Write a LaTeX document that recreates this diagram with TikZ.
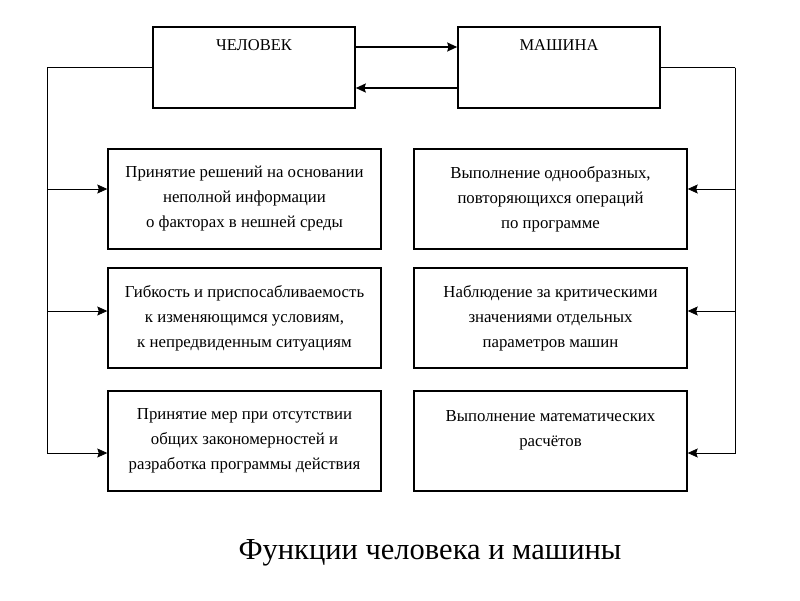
\documentclass[tikz,border=0pt]{standalone}
\usepackage{fontspec}
\setmainfont{Liberation Serif}
\usetikzlibrary{arrows.meta}

\begin{document}
\begin{tikzpicture}[
  x=1pt, y=-1pt,
  head/.style={draw, line width=1.6pt, minimum width=202pt, minimum height=81pt, inner sep=0pt},
  func/.style={draw, line width=1.4pt, minimum width=273pt, minimum height=100pt,
               inner sep=2pt, align=center, font=\fontsize{16.8}{25}\selectfont},
  link/.style={line width=0.8pt},
  >={Stealth[length=10pt, width=9pt, inset=1.5pt]}
]
  \useasboundingbox (0,0) rectangle (800,600);

  % ── top ──
  \node[head, label={[anchor=north, yshift=-10pt, font=\fontsize{16.5}{18}\selectfont]north:ЧЕЛОВЕК}] (chel) at (254, 67.5) {};
  \node[head, label={[anchor=north, yshift=-10pt, font=\fontsize{16.5}{18}\selectfont]north:МАШИНА}] (mash) at (559, 67.5) {};
  \draw[->, line width=1.8pt] ([yshift=20.5pt]chel.east) -- ([yshift=20.5pt]mash.west);
  \draw[->, line width=1.8pt] ([yshift=-20.5pt]mash.west) -- ([yshift=-20.5pt]chel.east);

  % ── human ──
  \node[func] (l1) at (244.5, 199) {Принятие решений на основании\\неполной информации\\о факторах в нешней среды};
  \node[func] (l2) at (244.5, 318) {Гибкость и приспосабливаемость\\к изменяющимся условиям,\\к непредвиденным ситуациям};
  \node[func] (l3) at (244.5, 441) {Принятие мер при отсутствии\\общих закономерностей и\\разработка программы действия};

  % ── machine ──
  \node[func] (r1) at (550.5, 199) {Выполнение однообразных,\\повторяющихся операций\\по программе};
  \node[func] (r2) at (550.5, 318) {Наблюдение за критическими\\значениями отдельных\\параметров машин};
  \node[func] (r3) at (550.5, 441) {Выполнение математических\\расчётов\\\mbox{}};

  % ── links ──
  \coordinate (lt) at (47, 67.5);
  \coordinate (rt) at (735, 67.5);
  \draw[link] (chel.west) -- (lt);
  \draw[link] (mash.east) -- (rt);
  \draw[link, ->] (lt) |- ([yshift=10pt]l1.west);
  \draw[link, ->] (lt) |- ([yshift=7pt]l2.west);
  \draw[link, ->] (lt) |- ([yshift=-12pt]l3.west);
  \draw[link, ->] (rt) |- ([yshift=10pt]r1.east);
  \draw[link, ->] (rt) |- ([yshift=7pt]r2.east);
  \draw[link, ->] (rt) |- ([yshift=-12pt]r3.east);

  \node[font=\fontsize{30.5}{34}\selectfont] (title) at (430, 553) {Функции человека и машины};
\end{tikzpicture}
\end{document}
